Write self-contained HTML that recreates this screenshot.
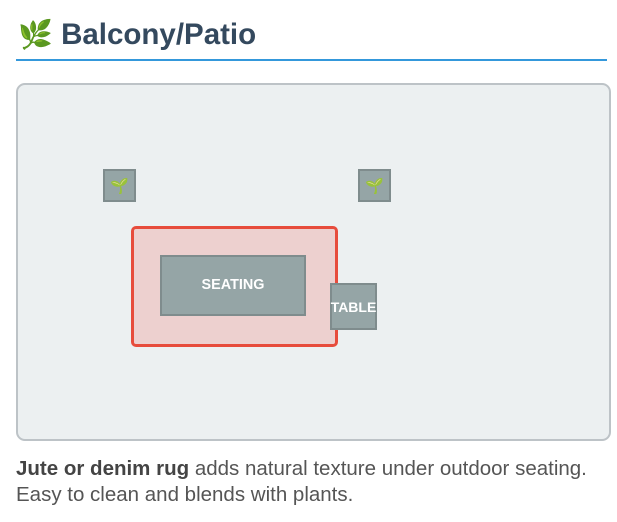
<!DOCTYPE html>
<html><head><style>
body{margin:0;width:617px;height:522px;background:#fff;font-family:"Liberation Sans",sans-serif;position:relative;overflow:hidden}
.a{position:absolute;box-sizing:border-box}
.p{background:#95a5a6;border:2px solid #7f8c8d;width:33px;height:33px;display:flex;align-items:center;justify-content:center;font-size:15px}
.f{background:#95a5a6;border:2px solid #7f8c8d;color:#fff;font-weight:bold;font-size:14.4px;display:flex;align-items:center;justify-content:center;white-space:nowrap}
</style></head><body>
<div class="a" style="left:18px;top:17px;font-size:29.5px;font-weight:bold;color:#34495e;line-height:36px;white-space:nowrap"><span style="font-size:28px">🌿</span> Balcony/Patio</div>
<div class="a" style="left:16px;top:59px;width:591px;height:2px;background:#3498db"></div>
<div class="a" style="left:16px;top:83px;width:595px;height:358px;background:#ecf0f1;border:2px solid #bdc3c7;border-radius:9px"></div>
<div class="a p" style="left:103px;top:169px">🌱</div>
<div class="a p" style="left:358px;top:169px">🌱</div>
<div class="a" style="left:131px;top:226px;width:207px;height:121px;background:#edd0cf;border:3px solid #e74c3c;border-radius:5px"></div>
<div class="a f" style="left:160px;top:255px;width:146px;height:61px;padding-bottom:2px">SEATING</div>
<div class="a f" style="left:330px;top:283px;width:47px;height:47px;font-size:14px;overflow:visible;justify-content:center">TABLE</div>
<div class="a" style="left:16px;top:456px;font-size:20.5px;color:#555;line-height:26px;width:610px;white-space:nowrap"><b style="color:#444">Jute or denim rug</b> adds natural texture under outdoor seating.<br>Easy to clean and blends with plants.</div>
</body></html>
